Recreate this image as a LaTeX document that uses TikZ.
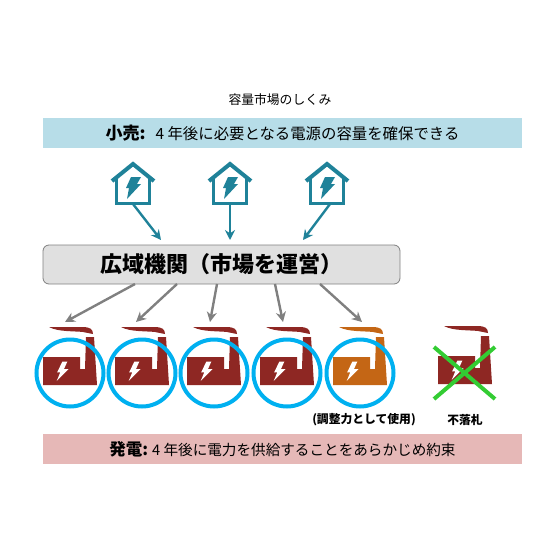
\documentclass[tikz,border=0pt]{standalone}
\usepackage{fontspec}
\setmainfont{Noto Sans CJK JP}
\usetikzlibrary{arrows.meta}

\begin{document}
\begin{tikzpicture}[
    x=1pt, y=-1pt,
    band/.style={minimum width=479pt, minimum height=30pt, inner sep=0pt},
    market/.style={rounded corners=6pt, draw=black!50, fill=black!12, thick, minimum width=357pt, minimum height=39pt, inner sep=0pt},
    note/.style={inner sep=0pt, font=\bfseries\fontsize{11.8}{13}\selectfont},
    feed/.style={-{Stealth[length=10pt,width=10pt]}, line width=2.4pt, draw=housecol},
    award/.style={-{Stealth[length=10pt,width=10pt]}, line width=2.4pt, draw=black!50},
    ring/.style={circle, draw=ringcol, line width=4pt, minimum size=67pt, inner sep=0pt},
    cross/.style={line width=4pt, draw=crosscol},
    house/.pic={
        \draw[housecol, line width=4pt, line join=miter] (-21,19) -- (0,2) -- (21,19);
        \draw[housecol, line width=3pt] (-16.5,15) -- (-16.5,41.5) -- (16.5,41.5) -- (16.5,15);
        \fill[housecol] (-2,15) -- (8,15) -- (4,22) -- (8,22) -- (-6,37) -- (-4,26) -- (-7,26) -- cycle;
    },
    factory/.pic={
        \fill[pic actions] (-27,-16) -- (10,-16) -- (10,-4) -- (15,-4) -- (16,-36) -- (24,-36) -- (27,12) -- (-27,12) -- cycle;
        \fill[pic actions] (-21,-46) -- (12,-46) .. controls (20,-46) and (23,-44) .. (23,-39) -- (13,-41) .. controls (5,-42) and (-12,-41) .. (-21,-46) -- cycle;
        \fill[white] (-7.7,-11.3) -- (-2.7,-11.3) -- (-6,-4) -- (-1.5,-4) -- (-13.3,8) -- (-9.7,-0.7) -- (-12.8,-0.7) -- cycle;
    }
]
    \definecolor{housecol}{HTML}{1F8299}
    \definecolor{ringcol}{HTML}{00B0F0}
    \definecolor{plantcol}{HTML}{8E2723}
    \definecolor{sparecol}{HTML}{C46615}
    \definecolor{topband}{HTML}{B7DDE8}
    \definecolor{lowband}{HTML}{E6B8B7}
    \definecolor{crosscol}{HTML}{33CC33}
    \useasboundingbox (0,0) rectangle (560,560);

    % Title and bands
    \node[inner sep=0pt, font=\fontsize{12.8}{14}\selectfont] (title) at (280,100) {容量市場のしくみ};
    \node[band, fill=topband, font=\fontsize{15.4}{17}\selectfont] (retail) at (282.5,133) {{\bfseries\fontsize{17}{17}\selectfont 小売:}\hspace{10pt}4 年後に必要となる電源の容量を確保できる};
    \node[band, fill=lowband, font=\fontsize{14.6}{16}\selectfont] (power) at (282.5,449) {{\bfseries\fontsize{16.5}{17}\selectfont 発電:}\hspace{4pt}4 年後に電力を供給することをあらかじめ約束};

    % Market
    \node[market] (occto) at (221.5,264.5) {\bfseries\fontsize{22}{24}\selectfont 広域機関（市場を運営）\hspace{11pt}};

    % Houses
    \pic at (133,162) {house};
    \pic at (230,162) {house};
    \pic at (327,162) {house};
    \coordinate (h1) at (133,204);
    \coordinate (h2) at (230,204);
    \coordinate (h3) at (330,204);
    \coordinate (m1) at (161,240);
    \coordinate (m2) at (230,240);
    \coordinate (m3) at (303,240);
    \draw[feed] (h1) -- (m1);
    \draw[feed] (h2) -- (m2);
    \draw[feed] (h3) -- (m3);

    % Plants
    \pic[fill=plantcol] at (70,373) {factory};
    \pic[fill=plantcol] at (142,373) {factory};
    \pic[fill=plantcol] at (214,373) {factory};
    \pic[fill=plantcol] at (287,373) {factory};
    \pic[fill=sparecol] at (360,373) {factory};
    \pic[fill=plantcol] at (465,372) {factory};
    \node[ring] (p1) at (70,373) {};
    \node[ring] (p2) at (142,373) {};
    \node[ring] (p3) at (214,373) {};
    \node[ring] (p4) at (287,373) {};
    \node[ring] (p5) at (360,373) {};

    % Awards
    \coordinate (a1) at (135,284);
    \coordinate (a2) at (177,284);
    \coordinate (a3) at (217,284);
    \coordinate (a4) at (275,284);
    \coordinate (a5) at (320,284);
    \coordinate (b1) at (65,322);
    \coordinate (b2) at (136,322);
    \coordinate (b3) at (210,322);
    \coordinate (b4) at (283,322);
    \coordinate (b5) at (362,322);
    \draw[award] (a1) -- (b1);
    \draw[award] (a2) -- (b2);
    \draw[award] (a3) -- (b3);
    \draw[award] (a4) -- (b4);
    \draw[award] (a5) -- (b5);

    % Lost bid
    \draw[cross] (434,347) -- (495,399);
    \draw[cross] (434,399) -- (495,347);

    % Notes
    \node[note] (spare) at (364,420) {(調整力として使用)};
    \node[note] (lost) at (465,420) {不落札};
\end{tikzpicture}
\end{document}
